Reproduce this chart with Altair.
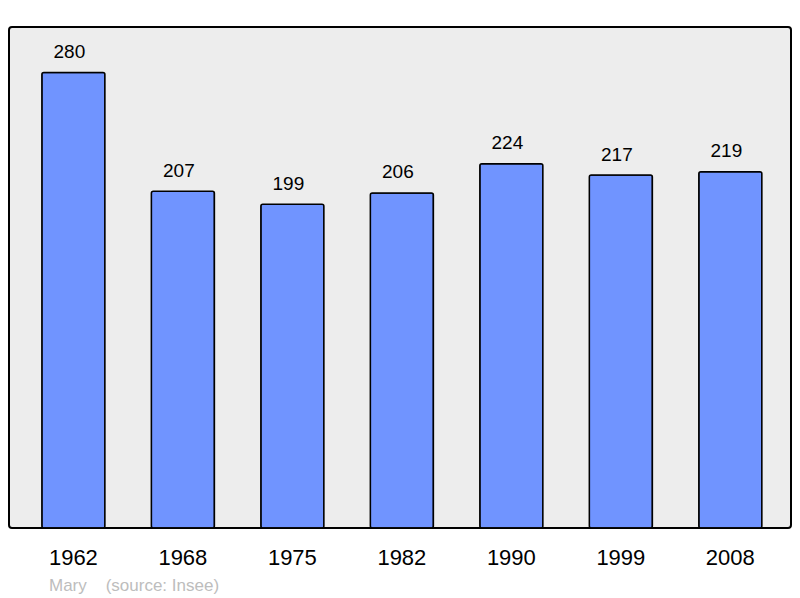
import altair as alt
import pandas as pd

years = ["1962", "1968", "1975", "1982", "1990", "1999", "2008"]
population = [280, 207, 199, 206, 224, 217, 219]
footer = "Mary\u00a0\u00a0\u00a0\u00a0(source: Insee)"

df = pd.DataFrame({"year": years, "pop": population})
FONT = "Liberation Sans"

x = alt.X("year:N", sort=years, title=None,
          scale=alt.Scale(paddingInner=0.424, paddingOuter=0.283, align=0.53),
          axis=alt.Axis(labelFontSize=22, labelFont=FONT, labelColor="black",
                        labelAngle=0, ticks=False, domain=False,
                        labelBaseline="alphabetic", labelPadding=36))
y = alt.Y("pop:Q", title=None, scale=alt.Scale(domain=[0, 308], nice=False, zero=True),
          axis=None)

base = alt.Chart(df)
bars = base.mark_bar(color="#7094ff", stroke="black", strokeWidth=1.5,
                     cornerRadius=2).encode(x=x, y=y)
labels = base.mark_text(fontSize=19, font=FONT, color="black", baseline="alphabetic",
                        dy=-14.5, dx=-4).encode(x=x, y=y, text="pop:Q")
foot = alt.Chart(pd.DataFrame({"t": [footer]})).mark_text(
    fontSize=17, font=FONT, color="#bdbdbd", align="left", baseline="alphabetic"
).encode(x=alt.value(40), y=alt.value(563.7), text="t:N")

chart = alt.layer(bars, labels, foot).properties(
    width=782, height=501,
    autosize=alt.AutoSizeParams(type="none"),
    padding={"left": 1, "top": 19, "right": 1, "bottom": 70},
    background="white",
).configure_view(fill="#ededed", stroke="black", strokeWidth=2, cornerRadius=3)

chart.save("out.html", embed_options={"renderer": "svg", "actions": False})
